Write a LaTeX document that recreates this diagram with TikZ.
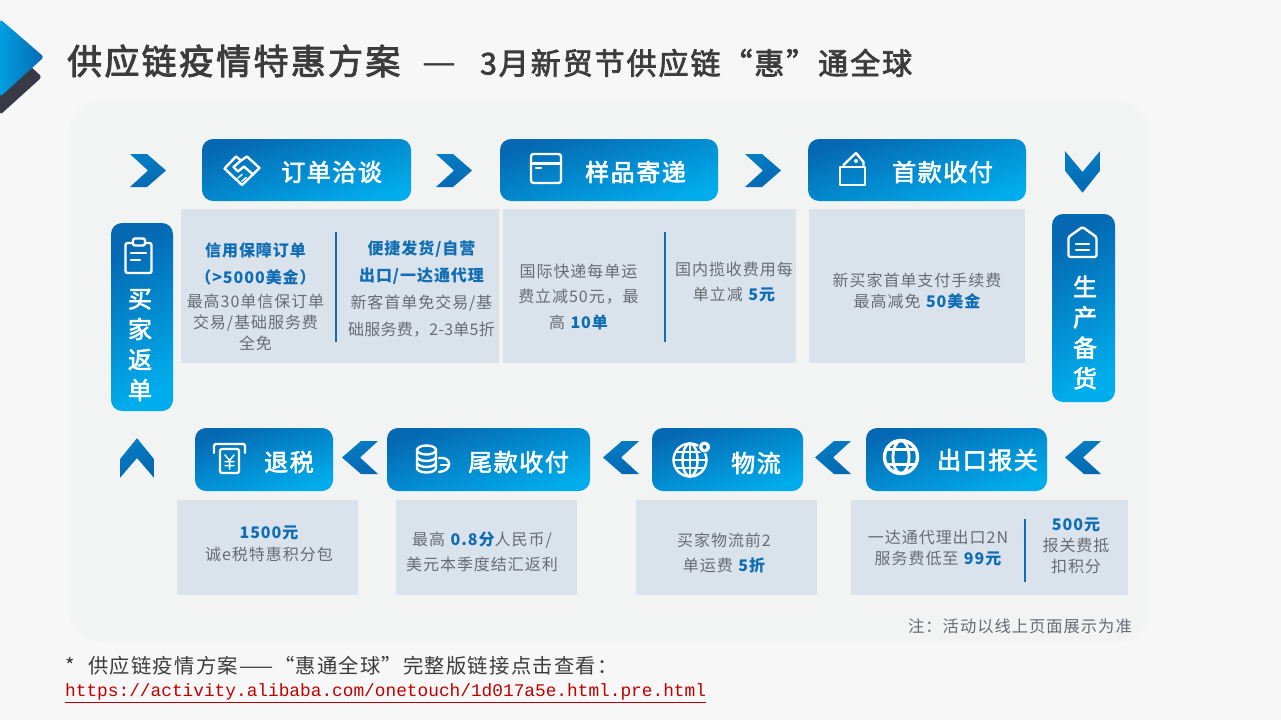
\documentclass[tikz,border=0pt]{standalone}
\usepackage{fontspec}
\setmainfont{Noto Sans CJK SC}[LetterSpace=6]
\newfontfamily\titlefont{Noto Sans CJK SC}[LetterSpace=6.5, FakeBold=2.5]
\newfontfamily\urlfont{Liberation Mono}
\usetikzlibrary{arrows.meta, positioning, calc, shapes.geometric}
\definecolor{PageBg}{HTML}{F7F7F7}
\definecolor{PanelBg}{HTML}{F2F3F3}
\definecolor{InfoBg}{HTML}{DAE3EC}
\definecolor{BtnDark}{HTML}{0568B2}
\definecolor{BtnLight}{HTML}{00ADEC}
\definecolor{HiBlue}{HTML}{0F6DB4}
\definecolor{BodyGray}{HTML}{666C72}
\definecolor{TitleGray}{HTML}{3C3C3C}
\definecolor{LogoDark}{HTML}{3A3A46}
\definecolor{LinkRed}{HTML}{C00000}
\newcommand{\hl}[1]{\textbf{\textcolor{HiBlue}{#1}}}
\newcommand{\fsz}[2]{\fontsize{#1}{#2}\selectfont}

\begin{document}
\begin{tikzpicture}[x=1pt, y=-1pt]
    \tikzstyle{btn}      = [rectangle, inner sep=0pt, rounded corners=11pt, top color=BtnDark, bottom color=BtnLight, shading angle=18]
    \tikzstyle{btnv}     = [rectangle, inner sep=0pt, rounded corners=11pt, top color=BtnLight, bottom color=BtnDark, shading angle=-150]
    \tikzstyle{btntext}  = [inner sep=0pt, text=white, font=\fsz{24}{30.5}\titlefont, align=center]
    \tikzstyle{info}     = [rectangle, inner sep=0pt, fill=InfoBg]
    \tikzstyle{infotext} = [inner sep=0pt, text=BodyGray, font=\fsz{16}{21}, align=center]
    \tikzstyle{divider}  = [draw=HiBlue, line width=1.6pt]
    \tikzstyle{icon}     = [draw=white, line width=2.4pt, line join=round, line cap=round]
    \tikzset{chevron/.pic={
        \shade[top color=BtnDark!70!BtnLight, bottom color=BtnDark, shading angle=20] (-18,-16.5) -- (-1,-16.5) -- (18,0) -- (-1,16.5) -- (-18,16.5) -- (0,0) -- cycle;
    }}

    % Page and panel
    \useasboundingbox (0,0) rectangle (1281,720);
    \fill[PageBg] (0,0) rectangle (1281,720);
    \fill[PanelBg!35!PageBg, rounded corners=34pt] (68,99) rectangle (1151,644);
    \fill[PanelBg!70!PageBg, rounded corners=32pt] (70,101) rectangle (1149,642);
    \fill[PanelBg, rounded corners=30pt] (73,104) rectangle (1146,639);

    % Logo
    \fill[LogoDark, rounded corners=3pt] (0,38) -- (42,77) -- (0,115) -- cycle;
    \shade[left color=BtnLight!80!BtnDark, right color=BtnDark, rounded corners=3pt] (0,19) -- (44,57) -- (0,97) -- cycle;

    % Title
    \node[anchor=west, inner sep=0pt, text=TitleGray, font=\fsz{35}{40}\titlefont] (title) at (67,61) {供应链疫情特惠方案};
    \node[anchor=west, inner sep=0pt, text=TitleGray, font=\fsz{38}{40}] (titledash) at (422,70) {—};
    \node[anchor=west, inner sep=0pt, text=TitleGray, font=\fsz{30}{36}\titlefont] (subtitle) at (480,63) {3月新贸节供应链“惠”通全球};

    % Top row
    \node[btn, minimum width=209pt, minimum height=62pt] (order) at (306.5,170) {};
    \node[btn, minimum width=218pt, minimum height=62pt] (sample) at (609,170) {};
    \node[btn, minimum width=218pt, minimum height=62pt] (firstpay) at (917,170) {};
    \node[btntext, anchor=west] (ordertext) at (281,172) {订单洽谈};
    \node[btntext, anchor=west] (sampletext) at (585,172) {样品寄递};
    \node[btntext, anchor=west] (firstpaytext) at (892,172) {首款收付};

    % Bottom row
    \node[btn, minimum width=138pt, minimum height=63pt] (refund) at (264,459.5) {};
    \node[btn, minimum width=203pt, minimum height=63pt] (finalpay) at (488.5,459.5) {};
    \node[btn, minimum width=151pt, minimum height=63pt] (logistics) at (727.5,459.5) {};
    \node[btn, minimum width=181pt, minimum height=63pt] (customs) at (956.5,459.5) {};
    \node[btntext, anchor=west] (refundtext) at (264,462) {退税};
    \node[btntext, anchor=west] (finalpaytext) at (468,462) {尾款收付};
    \node[btntext, anchor=west] (logisticstext) at (731,463) {物流};
    \node[btntext, anchor=west] (customstext) at (937,460) {出口报关};

    % Side buttons
    \node[btnv, minimum width=62pt, minimum height=188pt] (rebate) at (142,317) {};
    \node[btnv, minimum width=63pt, minimum height=188pt] (produce) at (1083.5,308) {};
    \node[btntext] (rebatetext) at (140,345) {买\\家\\返\\单};
    \node[btntext] (producetext) at (1085,332.5) {生\\产\\备\\货};

    % Chevrons
    \pic at (148,170.5) {chevron};
    \pic at (454,170.5) {chevron};
    \pic at (763,170.5) {chevron};
    \pic[rotate=-90, xscale=1.15, yscale=1.05] at (1082.5,172) {chevron};
    \pic[rotate=180] at (1083,457.5) {chevron};
    \pic[rotate=180] at (833,457.5) {chevron};
    \pic[rotate=180] at (621,457.5) {chevron};
    \pic[rotate=180] at (360,457.5) {chevron};
    \pic[rotate=90, xscale=1.1, yscale=1.03] at (137,458) {chevron};

    % Info boxes, top
    \node[info, minimum width=318pt, minimum height=154pt] (orderbox) at (340,286) {};
    \node[info, minimum width=293pt, minimum height=154pt] (samplebox) at (649.5,286) {};
    \node[info, minimum width=216pt, minimum height=154pt] (firstpaybox) at (917,286) {};
    \draw[divider] (336,232) -- (336,342);
    \draw[divider] (665,232) -- (665,342);

    \node[infotext] (credit) at (255.5,296.5) {\hl{信用保障订单}\\[6pt]\hl{（>5000美金）}\\[3pt]最高30单信保订单\\交易/基础服务费\\全免};
    \node[infotext, font=\fsz{16}{27}] (ship) at (421.5,289) {\hl{便捷发货/自营}\\\hl{出口/一达通代理}\\新客首单免交易/基\\{\addfontfeature{LetterSpace=1.5}础服务费，2-3单5折}};
    \node[infotext, font=\fsz{16}{25.5}] (express) at (578.5,296.5) {国际快递每单运\\费立减50元，最\\高 \hl{10单}};
    \node[infotext, font=\fsz{16}{25}] (pickup) at (734,281.5) {国内揽收费用每\\单立减 \hl{5元}};
    \node[infotext] (fee) at (917,290.5) {新买家首单支付手续费\\最高减免 \hl{50美金}};

    % Info boxes, bottom
    \node[info, minimum width=181pt, minimum height=95pt] (refundbox) at (267.5,547.5) {};
    \node[info, minimum width=181pt, minimum height=95pt] (finalpaybox) at (486.5,547.5) {};
    \node[info, minimum width=181pt, minimum height=95pt] (logisticsbox) at (726.5,547.5) {};
    \node[info, minimum width=277pt, minimum height=95pt] (customsbox) at (989.5,547.5) {};
    \draw[divider] (1025,519) -- (1025,582);

    \node[infotext, font=\fsz{16}{22}] (tax) at (269,544) {\hl{1500元}\\诚e税特惠积分包};
    \node[infotext, font=\fsz{16}{25}] (rate) at (482,551.5) {最高 \hl{0.8分}人民币/\\美元本季度结汇返利};
    \node[infotext, font=\fsz{16}{25}] (freight) at (724,553.5) {买家物流前2\\单运费 \hl{5折}};
    \node[infotext] (agent) at (938,548.5) {一达通代理出口2N\\服务费低至 \hl{99元}};
    \node[infotext] (points) at (1076,546) {\hl{500元}\\报关费抵\\扣积分};

    % Icons
    \draw[icon] (224.5,168.5) -- (236,156.5) -- (241,160.5) -- (247,156.5) -- (259.5,168) -- (242,185) -- cycle;
    \draw[icon] (241,160.5) -- (233.5,167) -- (238,171.5) -- (244,166.5) -- (253,174.5);
    \draw[icon, line width=1.5pt] (238,178) -- (242,174.5) (242,181) -- (246,177.5);
    \draw[icon, rounded corners=2.5pt] (531,154) rectangle (561,183);
    \draw[icon] (531,163.5) -- (561,163.5);
    \draw[icon] (536,168) -- (541,168);
    \draw[icon] (840,167) rectangle (865,185);
    \draw[icon] (843.5,165) -- (856,153) -- (863.5,162) -- (863.5,167);
    \fill[white] (856,161) circle (2pt);
    \draw[icon, rounded corners=2pt] (125.5,243) rectangle (151.5,273);
    \draw[icon, fill=BtnDark, rounded corners=2pt] (133,238.5) rectangle (145,245.5);
    \draw[icon] (131,253) -- (146,253);
    \draw[icon] (131,260) -- (140,260);
    \draw[icon, rounded corners=1.5pt] (1068.5,237) -- (1082.5,227) -- (1096.5,237) -- (1096.5,257) -- (1068.5,257) -- cycle;
    \draw[icon] (1076,244) -- (1089,244);
    \draw[icon] (1076,250) -- (1089,250);
    \draw[icon, rounded corners=1.5pt] (214,453) -- (214,444) -- (245,444) -- (245,453);
    \draw[icon, rounded corners=1.5pt] (220,449) -- (239,449) -- (239,473) -- (220,473) -- cycle;
    \draw[icon, line width=1.5pt] (225,455) -- (229.5,460.5) -- (234,455) (229.5,460.5) -- (229.5,469) (225,461.5) -- (234,461.5) (225,465.5) -- (234,465.5);
    \draw[icon] (426.5,450) ellipse (9.5pt and 4.5pt);
    \draw[icon] (417,450) -- (417,468) arc (180:0:9.5pt and -4.5pt) -- (436,450);
    \draw[icon] (417,456.5) arc (180:0:9.5pt and -4.5pt);
    \draw[icon] (417,462.5) arc (180:0:9.5pt and -4.5pt);
    \draw[icon] (439,458) .. controls (452,456) and (453,471) .. (439,472);
    \draw[icon] (441,465) -- (449,465);
    \draw[icon] (690,460) circle (16.5pt);
    \draw[icon] (690,460) ellipse (7.5pt and 16.5pt);
    \draw[icon] (673.5,460) -- (706.5,460) (676,452) -- (704,452) (676,468) -- (704,468) (690,443.5) -- (690,476.5);
    \fill[white, draw=BtnDark!60!BtnLight, line width=1pt] (704.5,447) circle (6pt);
    \fill[BtnDark] (704.5,447) circle (2pt);
    \draw[icon, line width=3.4pt] (901,457) circle (16.5pt);
    \draw[icon, line width=2.8pt] (901,457) ellipse (8pt and 16.5pt);
    \draw[icon, line width=2.8pt] (886,449.5) -- (916,449.5) (886,464.5) -- (916,464.5);

    % Notes
    \node[anchor=east, inner sep=0pt, text=BodyGray, font=\fsz{16.3}{20}] (note) at (1132,626) {注：活动以线上页面展示为准};
    \node[anchor=west, inner sep=0pt, text=TitleGray, font=\fsz{20.3}{24}] (footnote) at (65,666) {*\hspace{8pt} 供应链疫情方案——“惠通全球”完整版链接点击查看：};
    \node[anchor=west, inner sep=0pt, font=\fsz{17.8}{22}\urlfont] (link) at (65,693) {\textcolor{LinkRed}{\underline{https://activity.alibaba.com/onetouch/1d017a5e.html.pre.html}}};
\end{tikzpicture}
\end{document}
